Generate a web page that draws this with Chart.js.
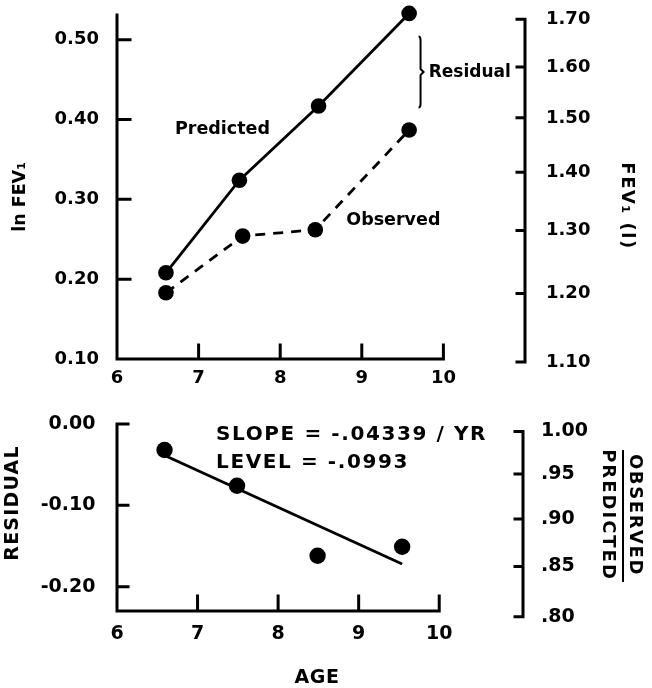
<!DOCTYPE html>
<html>
<head>
<meta charset="utf-8">
<title>ln FEV1 and residual by age</title>
<script src="https://cdn.jsdelivr.net/npm/chart.js@4.4.1/dist/chart.umd.min.js"></script>
<style>
  body { margin: 0; background: #fff; }
  #wrap { position: relative; width: 652px; height: 688px; }
  canvas { position: absolute; left: 0; display: block; }
  #topChart { top: 0; }
  #bottomChart { top: 400px; }
</style>
</head>
<body>
<div id="wrap">
  <canvas id="topChart" width="652" height="400"></canvas>
  <canvas id="bottomChart" width="652" height="288"></canvas>
</div>
<script>
// top panel: ln FEV1 against age
const predictedAges = [6.6, 7.5, 8.47, 9.58];
const predictedLnFev = [0.208, 0.324, 0.417, 0.533];
const observedAges = [6.6, 7.54, 8.43, 9.58];
const observedLnFev = [0.183, 0.254, 0.262, 0.387];
const ageTicks = [6, 7, 8, 9, 10];
const lnFevTicks = [0.10, 0.20, 0.30, 0.40, 0.50];
const lnFevLabels = ['0.10', '0.20', '0.30', '0.40', '0.50'];
const fevTicks = [1.10, 1.20, 1.30, 1.40, 1.50, 1.60, 1.70];
const fevLabels = ['1.10', '1.20', '1.30', '1.40', '1.50', '1.60', '1.70'];

// bottom panel: residuals and fitted line
const residualAges = [6.59, 7.49, 8.49, 9.54];
const residuals = [-0.032, -0.076, -0.162, -0.151];
const fitAges = [6.58, 9.54];
const fitResiduals = [-0.038, -0.172];
const residualTicks = [-0.20, -0.10, 0.00];
const residualLabels = ['-0.20', '-0.10', '0.00'];
const ratioTicks = [0.80, 0.85, 0.90, 0.95, 1.00];
const ratioLabels = ['.80', '.85', '.90', '.95', '1.00'];

const FONT = '"DejaVu Sans", sans-serif';

function pairs(xs, ys) {
    return xs.map((x, i) => ({ x: x, y: ys[i] }));
}

function setTicks(values) {
    return scale => { scale.ticks = values.map(v => ({ value: v })); };
}

// fixed box size, and no extra room asked for the labels
function fixSize(prop, size) {
    return s => {
        s[prop] = size;
        s.paddingTop = 0; s.paddingBottom = 0;
        s.paddingLeft = 0; s.paddingRight = 0;
    };
}

// axes drawn by hand so the lines stop at the last tick, ticks point inward
const handAxes = {
    id: 'handAxes',
    afterDraw(chart, args, opts) {
        const { ctx } = chart;
        const x = chart.scales.x, y = chart.scales.y, y2 = chart.scales.y2;
        const x0 = x.getPixelForValue(ageTicks[0]);
        const x1 = x.getPixelForValue(ageTicks[ageTicks.length - 1]);
        const yb = y.bottom, yt = y.top;
        ctx.save();
        ctx.strokeStyle = '#000';
        ctx.lineWidth = 3;
        ctx.lineCap = 'square';
        ctx.beginPath();
        ctx.moveTo(x0, yt);
        ctx.lineTo(x0, yb);
        ctx.lineTo(x1, yb);
        y.ticks.forEach(t => {
            const py = y.getPixelForValue(t.value);
            if (Math.abs(py - yb) < 2) return;
            ctx.moveTo(x0, py);
            ctx.lineTo(x0 + opts.yTick, py);
        });
        x.ticks.forEach(t => {
            const px = x.getPixelForValue(t.value);
            if (Math.abs(px - x0) < 2) return;
            ctx.moveTo(px, yb);
            ctx.lineTo(px, yb - opts.xTick);
        });
        ctx.stroke();

        // right axis as a bracket
        const rx = y2.left;
        const pys = y2.ticks.map(t => y2.getPixelForValue(t.value));
        const top = Math.min(...pys), bottom = Math.max(...pys);
        ctx.beginPath();
        ctx.moveTo(rx - opts.rTick, top);
        ctx.lineTo(rx, top);
        ctx.lineTo(rx, bottom);
        ctx.lineTo(rx - opts.rTick, bottom);
        pys.forEach(py => {
            ctx.moveTo(rx - opts.rTick, py);
            ctx.lineTo(rx, py);
        });
        ctx.stroke();
        ctx.restore();
    }
};

function drawText(ctx, t, px, py) {
    ctx.save();
    ctx.translate(px, py);
    if (t.rotate) ctx.rotate(t.rotate * Math.PI / 180);
    ctx.font = 'bold ' + t.size + 'px ' + FONT;
    ctx.letterSpacing = (t.spacing || 0) + 'px';
    ctx.textAlign = t.align || 'center';
    ctx.textBaseline = 'middle';
    ctx.fillStyle = '#000';
    ctx.fillText(t.text, 0, 0);
    ctx.restore();
}

// titles and notes
const notes = {
    id: 'notes',
    afterDraw(chart, args, opts) {
        const { ctx } = chart;
        const x = chart.scales.x, y = chart.scales.y;
        (opts.texts || []).forEach(t => {
            if (t.age !== undefined) {
                drawText(ctx, t, x.getPixelForValue(t.age), y.getPixelForValue(t.value));
            } else {
                drawText(ctx, t, t.px, t.py);
            }
        });
        ctx.save();
        ctx.strokeStyle = '#000';
        ctx.lineWidth = 2;
        if (opts.brace) {
            const b = opts.brace;
            const bx = x.getPixelForValue(b.age);
            const b0 = y.getPixelForValue(b.from), b1 = y.getPixelForValue(b.to);
            const bm = (b0 + b1) / 2;
            ctx.beginPath();
            ctx.moveTo(bx - 2, b0);
            ctx.quadraticCurveTo(bx, b0, bx, b0 + 4);
            ctx.lineTo(bx, bm - 3);
            ctx.lineTo(bx + 3, bm);
            ctx.lineTo(bx, bm + 3);
            ctx.lineTo(bx, b1 - 4);
            ctx.quadraticCurveTo(bx, b1, bx - 2, b1);
            ctx.stroke();
        }
        if (opts.bar) {
            ctx.beginPath();
            ctx.moveTo(opts.bar.px, opts.bar.from);
            ctx.lineTo(opts.bar.px, opts.bar.to);
            ctx.stroke();
        }
        ctx.restore();
    }
};

function tickFont(size) {
    return { family: FONT, size: size, weight: 'bold' };
}

function baseScales(cfg) {
    return {
        x: {
            type: 'linear', min: 6, max: cfg.xMax,
            grid: { display: false }, border: { display: false },
            ticks: { font: tickFont(cfg.font), color: '#000', padding: cfg.xPad, autoSkip: false, maxRotation: 0, callback: v => String(v) },
            afterBuildTicks: setTicks(ageTicks),
            afterFit: fixSize('height', cfg.xHeight)
        },
        y: {
            type: 'linear', position: 'left', min: cfg.yMin, max: cfg.yMax,
            grid: { display: false }, border: { display: false },
            ticks: { font: tickFont(cfg.font), color: '#000', padding: cfg.yPad, autoSkip: false, callback: (v, i) => cfg.yLabels[i] },
            afterBuildTicks: setTicks(cfg.yTicks),
            afterFit: fixSize('width', 117)
        },
        y2: {
            type: 'linear', position: 'right', min: cfg.rMin, max: cfg.rMax,
            grid: { display: false }, border: { display: false },
            ticks: { font: tickFont(cfg.font), color: '#000', padding: cfg.rPad, autoSkip: false, callback: (v, i) => cfg.rLabels[i] },
            afterBuildTicks: setTicks(cfg.rTicks.map(v => Math.log(v))),
            afterFit: fixSize('width', cfg.rWidth)
        }
    };
}

const pointStyle = { pointRadius: 7.8, pointHoverRadius: 7.8, pointBackgroundColor: '#000', pointBorderWidth: 0 };

new Chart(document.getElementById('topChart'), {
    type: 'scatter',
    data: {
        datasets: [
            Object.assign({
                label: 'Predicted', data: pairs(predictedAges, predictedLnFev),
                showLine: true, borderColor: '#000', borderWidth: 2.8, clip: false
            }, pointStyle),
            Object.assign({
                label: 'Observed', data: pairs(observedAges, observedLnFev),
                showLine: true, borderColor: '#000', borderWidth: 2.8, borderDash: [10, 8], clip: false
            }, pointStyle)
        ]
    },
    options: {
        responsive: false, animation: false,
        layout: { padding: { top: 15, left: 0, right: 0, bottom: 0 } },
        scales: baseScales({
            xMax: 11.0, xPad: 1, xHeight: 41, font: 18,
            yMin: 0.10, yMax: 0.531, yPad: 10, yTicks: lnFevTicks, yLabels: lnFevLabels,
            rMin: 0.0991, rMax: 0.5361, rPad: 13, rTicks: fevTicks, rLabels: fevLabels, rWidth: 127
        }),
        plugins: {
            legend: { display: false }, tooltip: { enabled: false },
            handAxes: { yTick: 13, xTick: 14, rTick: 8 },
            notes: {
                texts: [
                    { text: 'ln FEV\u2081', px: 20, py: 197, rotate: -90, size: 17.5 },
                    { text: 'FEV\u2081 (l)', px: 627, py: 206, rotate: 90, size: 18, spacing: 1.5 },
                    { text: 'Predicted', age: 6.71, value: 0.387, align: 'left', size: 17.5 },
                    { text: 'Observed', age: 8.81, value: 0.274, align: 'left', size: 17.5 },
                    { text: 'Residual', age: 9.82, value: 0.4586, align: 'left', size: 17 }
                ],
                brace: { age: 9.72, from: 0.504, to: 0.415 }
            }
        }
    },
    plugins: [handAxes, notes]
});

new Chart(document.getElementById('bottomChart'), {
    type: 'scatter',
    data: {
        datasets: [
            Object.assign({
                label: 'Residual', data: pairs(residualAges, residuals), clip: false
            }, pointStyle, { pointRadius: 8.2 }),
            {
                label: 'Fit', data: pairs(fitAges, fitResiduals), showLine: true,
                borderColor: '#000', borderWidth: 2.8, pointRadius: 0, clip: false
            }
        ]
    },
    options: {
        responsive: false, animation: false,
        layout: { padding: { top: 24, left: 0, right: 0, bottom: 0 } },
        scales: baseScales({
            xMax: 11.04, xPad: 4, xHeight: 77, font: 19,
            yMin: -0.2299, yMax: 0, yPad: 13.5, yTicks: residualTicks, yLabels: residualLabels,
            rMin: -0.2162, rMax: 0.0089, rPad: 10, rTicks: ratioTicks, rLabels: ratioLabels, rWidth: 129
        }),
        plugins: {
            legend: { display: false }, tooltip: { enabled: false },
            handAxes: { yTick: 11, xTick: 15, rTick: 8 },
            notes: {
                texts: [
                    { text: 'RESIDUAL', px: 13, py: 103, rotate: -90, size: 19, spacing: 1.2 },
                    { text: 'AGE', px: 317, py: 278, size: 19, spacing: 0.5 },
                    { text: 'OBSERVED', px: 635, py: 115, rotate: 90, size: 18, spacing: 1.6 },
                    { text: 'PREDICTED', px: 608, py: 115, rotate: 90, size: 18, spacing: 2 },
                    { text: 'SLOPE = -.04339 / YR', age: 7.23, value: -0.0132, align: 'left', size: 20, spacing: 1.6 },
                    { text: 'LEVEL = -.0993', age: 7.23, value: -0.0477, align: 'left', size: 20, spacing: 1.6 }
                ],
                bar: { px: 623, from: 50, to: 182 }
            }
        }
    },
    plugins: [handAxes, notes]
});
</script>
</body>
</html>
